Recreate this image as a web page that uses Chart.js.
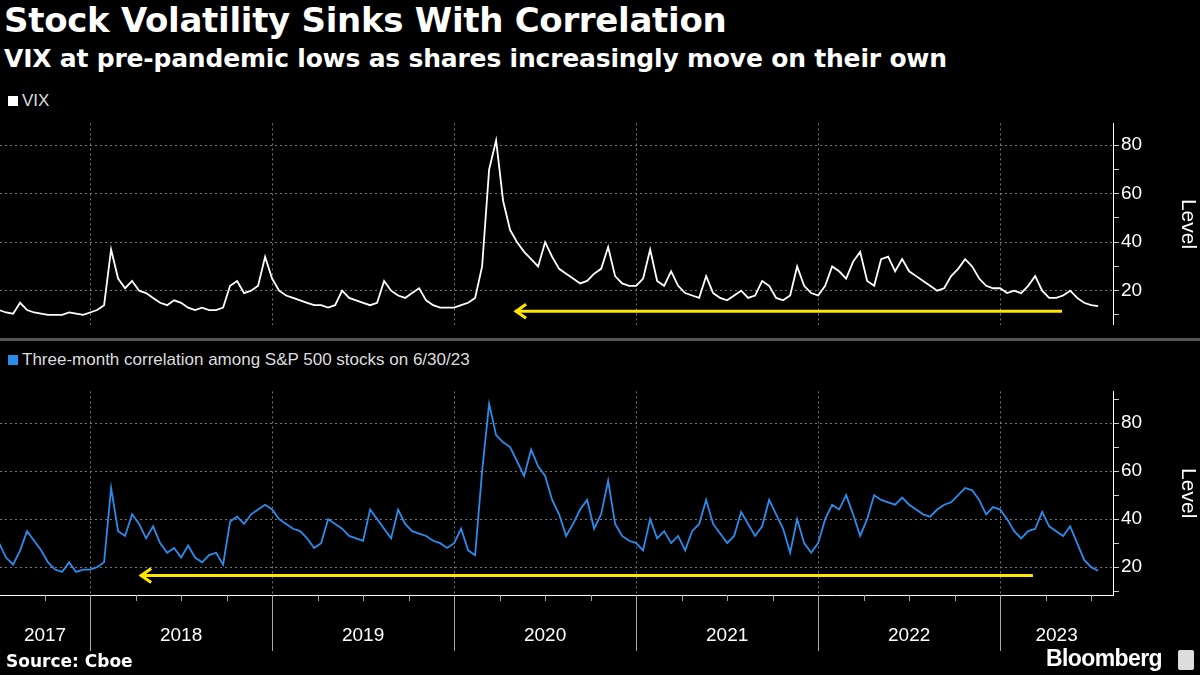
<!DOCTYPE html>
<html>
<head>
<meta charset="utf-8">
<script src="https://cdn.jsdelivr.net/npm/chart.js@4"></script>
<style>
  body { margin: 0; background: #000; width: 1200px; height: 675px; overflow: hidden; position: relative; font-family: "Liberation Sans", sans-serif; color: #fff; }
  .abs { position: absolute; }
  #title { left: 4px; top: 0px; font: bold 34px "DejaVu Sans"; letter-spacing: -0.3px; }
  #subtitle { left: 4px; top: 44px; font: bold 25px "DejaVu Sans"; letter-spacing: -0.2px; }
  .legend { font-size: 17px; color: #ddd; }
  .legend span { display: inline-block; width: 10px; height: 10px; margin-right: 4px; }
  #source { left: 6px; top: 651px; font: bold 17px "DejaVu Sans"; }
  #brand { left: 1046px; top: 645px; font: bold 23px "Liberation Sans"; letter-spacing: -0.6px; }
  #brandbox { left: 1178px; top: 650px; width: 16px; height: 20px; background: #ddd; border-radius: 2px; }
  #divider { left: 0; top: 338px; width: 1200px; height: 3px; background: #555; }
</style>
</head>
<body>
<div id="title" class="abs">Stock Volatility Sinks With Correlation</div>
<div id="subtitle" class="abs">VIX at pre-pandemic lows as shares increasingly move on their own</div>
<div class="abs legend" style="left:8px;top:91px"><span style="background:#fff"></span>VIX</div>
<div class="abs legend" style="left:8px;top:350px"><span style="background:#2b8ced"></span>Three-month correlation among S&amp;P 500 stocks on 6/30/23</div>
<div id="divider" class="abs"></div>
<div class="abs" style="left:0;top:110px;width:1200px;height:228px"><canvas id="top"></canvas></div>
<div class="abs" style="left:0;top:378px;width:1200px;height:278px"><canvas id="bottom"></canvas></div>
<div id="source" class="abs">Source: Cboe</div>
<div id="brand" class="abs">Bloomberg</div>
<div id="brandbox" class="abs"></div>
<script>
// biweekly readings, each year starts at Jan 1 (2017 starts in July)
var segStarts = [2017.5, 2018, 2019, 2020, 2021, 2022, 2023];

var vix2017 = [12, 11, 10.5, 15, 12, 11, 10.5, 10, 10, 10, 11, 10.5, 10];
var vix2018 = [11, 12, 14, 37, 25, 21, 24, 20, 19, 17, 15, 14, 16, 15, 13, 12, 13, 12, 12, 13, 22, 24, 19, 20, 22, 34];
var vix2019 = [25, 20, 18, 17, 16, 15, 14, 14, 13, 14, 20, 17, 16, 15, 14, 15, 24, 20, 18, 17, 19, 21, 16, 14, 13, 13];
var vix2020 = [13, 14, 15, 17, 30, 70, 82, 57, 45, 40, 36, 33, 30, 40, 34, 29, 27, 25, 23, 24, 27, 29, 38, 26, 23, 22];
var vix2021 = [22, 25, 37, 24, 22, 28, 22, 19, 18, 17, 26, 19, 17, 16, 18, 20, 17, 18, 24, 22, 17, 16, 18, 30, 22, 19];
var vix2022 = [18, 22, 30, 28, 25, 32, 36, 24, 22, 33, 34, 28, 33, 28, 26, 24, 22, 20, 21, 26, 29, 33, 30, 25, 22, 21];
var vix2023 = [21, 19, 20, 19, 22, 26, 20, 17, 17, 18, 20, 17, 15, 14, 13.6];

var corr2017 = [30, 24, 21, 27, 35, 31, 27, 22, 19, 18, 22, 18, 19];
var corr2018 = [19, 20, 22, 53, 35, 33, 42, 38, 32, 37, 30, 26, 28, 24, 29, 24, 22, 25, 26, 21, 39, 41, 38, 42, 44, 46];
var corr2019 = [44, 40, 38, 36, 35, 32, 28, 30, 40, 38, 36, 33, 32, 31, 44, 40, 36, 32, 44, 38, 35, 34, 33, 31, 30, 28];
var corr2020 = [30, 36, 27, 25, 60, 88, 75, 72, 70, 64, 58, 69, 62, 58, 48, 42, 33, 38, 44, 48, 36, 42, 56, 38, 33, 31];
var corr2021 = [30, 27, 40, 32, 35, 30, 33, 27, 35, 38, 48, 38, 34, 30, 33, 43, 38, 33, 37, 48, 42, 36, 26, 40, 30, 26];
var corr2022 = [30, 40, 46, 44, 50, 42, 33, 40, 50, 48, 47, 46, 49, 46, 44, 42, 41, 44, 46, 47, 50, 53, 52, 48, 42, 45];
var corr2023 = [44, 40, 35, 32, 35, 36, 43, 37, 35, 33, 37, 30, 23, 20, 18.5];

var years = [2017, 2018, 2019, 2020, 2021, 2022, 2023];
var vixArrow = [[2020.335, 11.5], [2023.34, 11.5]];
var corrArrow = [[2018.275, 16.5], [2023.18, 16.5]];

var xMin = 2017.505, xMax = 2023.62;

function build(segs) {
  var out = [];
  segs.forEach(function (seg, s) {
    seg.forEach(function (v, i) {
      out.push({ x: segStarts[s] + i / 26, y: v });
    });
  });
  return out;
}

var arrowHead = {
  id: 'arrowHead',
  afterDatasetsDraw: function (chart) {
    var p = chart.getDatasetMeta(1).data[0];
    var ctx = chart.ctx;
    ctx.save();
    ctx.strokeStyle = '#ffe500';
    ctx.lineWidth = 3;
    ctx.beginPath();
    ctx.moveTo(p.x + 11, p.y - 7);
    ctx.lineTo(p.x + 1, p.y);
    ctx.lineTo(p.x + 11, p.y + 7);
    ctx.stroke();
    ctx.restore();
  }
};

var yearAxis = {
  id: 'yearAxis',
  afterDraw: function (chart) {
    var xs = chart.scales.x, ctx = chart.ctx;
    var y0 = chart.chartArea.bottom;
    ctx.save();
    ctx.strokeStyle = '#aaa';
    ctx.lineWidth = 1;
    for (var q = 2017.5; q <= 2023.5; q += 0.25) {
      var px = Math.round(xs.getPixelForValue(q)) + 0.5;
      if (px > chart.chartArea.right) continue;
      ctx.beginPath();
      ctx.moveTo(px, y0);
      ctx.lineTo(px, y0 + (q % 1 === 0 ? 56 : 6));
      ctx.stroke();
    }
    ctx.fillStyle = '#fff';
    ctx.font = '19px "Liberation Sans"';
    ctx.textAlign = 'center';
    years.forEach(function (yr) {
      var a = Math.max(xs.getPixelForValue(yr), 0);
      var b = Math.min(xs.getPixelForValue(yr + 1), chart.chartArea.right);
      ctx.fillText(String(yr), (a + b) / 2, y0 + 46);
    });
    ctx.restore();
  }
};

function makeChart(id, data, color, arrow, yMin, yMax, showX) {
  return new Chart(document.getElementById(id), {
    type: 'line',
    data: {
      datasets: [
        { data: data, borderColor: color, borderWidth: 1.8, pointRadius: 0, tension: 0 },
        { data: arrow.map(function (a) { return { x: a[0], y: a[1] }; }), borderColor: '#ffe500', borderWidth: 3, pointRadius: 0 }
      ]
    },
    options: {
      responsive: true,
      maintainAspectRatio: false,
      animation: false,
      layout: { padding: 0 },
      plugins: { legend: { display: false }, tooltip: { enabled: false } },
      scales: {
        x: {
          type: 'linear',
          min: xMin,
          max: xMax,
          afterBuildTicks: function (scale) {
            scale.ticks = years.slice(1).map(function (y) { return { value: y }; });
          },
          afterFit: function (scale) { scale.height = showX ? 61 : 0; },
          ticks: { display: false, autoSkip: false },
          grid: { color: '#777', drawTicks: false, tickLength: 0 },
          border: { display: showX, color: '#fff', dash: [2, 3] }
        },
        y: {
          position: 'right',
          min: yMin,
          max: yMax,
          afterBuildTicks: function (scale) {
            var t = [];
            for (var v = 10; v <= 90; v += 10) {
              if (v >= yMin && v <= yMax) t.push({ value: v });
            }
            scale.ticks = t;
          },
          afterFit: function (scale) { scale.width = 87; },
          ticks: {
            color: '#fff',
            autoSkip: false,
            font: { size: 19, family: 'Liberation Sans' },
            padding: 2,
            callback: function (v) { return v % 20 === 0 ? v : ''; }
          },
          grid: {
            color: function (c) { return c.tick && c.tick.value % 20 === 0 ? '#777' : 'rgba(0,0,0,0)'; },
            tickColor: '#ccc',
            tickLength: 6
          },
          border: { color: '#fff', dash: [2, 3] },
          title: { display: true, text: 'Level', color: '#fff', font: { size: 21, family: 'Liberation Sans' }, padding: 0 }
        }
      }
    },
    plugins: showX ? [arrowHead, yearAxis] : [arrowHead]
  });
}

makeChart('top', build([vix2017, vix2018, vix2019, vix2020, vix2021, vix2022, vix2023]), '#ffffff', vixArrow, 6, 89, false);
makeChart('bottom', build([corr2017, corr2018, corr2019, corr2020, corr2021, corr2022, corr2023]), '#2b8ced', corrArrow, 8.4, 93.2, true);
</script>
</body>
</html>
